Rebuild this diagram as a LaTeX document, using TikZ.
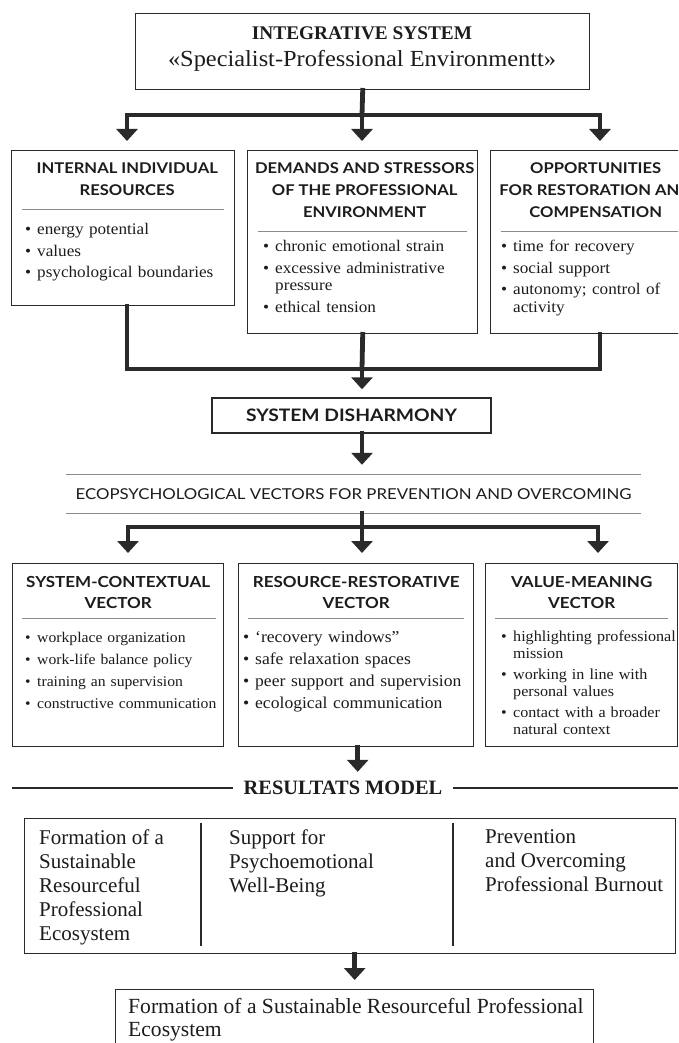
\documentclass[tikz,border=0pt]{standalone}
\usepackage{fontspec}
\setmainfont{Liberation Serif}[FakeStretch=1.06]
\newfontfamily\resfont{Liberation Serif}
\newfontfamily\headfont{Lato}[FakeStretch=1.12]
\usetikzlibrary{positioning,arrows.meta}
\definecolor{ESLine}{HTML}{2A2A2A}
\definecolor{ESRule}{HTML}{8A8A8A}
\definecolor{ESText}{HTML}{1C1C1C}
\newcommand{\bitem}[1]{\par\hangindent=12pt\hangafter=1\noindent\makebox[12pt][l]{\textbullet}#1\par}

\begin{document}
\begin{tikzpicture}[x=1pt,y=-1pt,
  frame/.style={draw=ESLine,line width=1.4pt,fill=white,inner sep=0pt,anchor=north west},
  boxhead/.style={font=\headfont\bfseries\fontsize{14.8}{22}\selectfont,align=center,inner sep=0pt,anchor=north,text=ESText},
  vechead/.style={boxhead,font=\headfont\bfseries\fontsize{15.2}{21}\selectfont},
  boxitems/.style={font=\fontsize{16.2}{17.5}\selectfont\setlength{\parskip}{4pt},text width=250pt,align=left,inner sep=0pt,anchor=north west,text=ESText},
  results/.style={font=\resfont\fontsize{21}{24}\selectfont,align=left,inner sep=0pt,anchor=north west,text=ESText},
  rule/.style={draw=ESRule,line width=0.9pt},
  divider/.style={draw=ESLine,line width=1.2pt},
  flow/.style={draw=ESLine,line width=4.8pt,line cap=rect},
  flowarrow/.style={flow,-{Triangle[width=21pt,length=12pt]},shorten >=9pt}]
\useasboundingbox (0,0) rectangle (678,1043);
\fill[white] (0,0) rectangle (678,1043);
\clip (0,0) rectangle (678,1043);

\node[frame,minimum width=454pt,minimum height=76pt] (intsys) at (135,13) {};
\node[font=\resfont\bfseries\fontsize{19.3}{23}\selectfont,text=ESText,inner sep=0pt] (intsysA) at (362,33) {INTEGRATIVE SYSTEM};
\node[font=\fontsize{23}{27}\selectfont,text=ESText,inner sep=0pt,anchor=base] (intsysB) at (362,67) {«Specialist-Professional Environmentt»};

\node[frame,minimum width=223pt,minimum height=155pt] (indres) at (11,150) {};
\node[frame,minimum width=230pt,minimum height=183pt] (demand) at (247,150) {};
\node[frame,minimum width=210pt,minimum height=183pt] (oppor) at (490,150) {};
\node[boxhead] (indresH) at ([xshift=4pt,yshift=-12.3pt]indres.north) {INTERNAL INDIVIDUAL\\RESOURCES};
\node[boxhead] (demandH) at ([xshift=2pt,yshift=-12.3pt]demand.north) {DEMANDS AND STRESSORS\\OF THE PROFESSIONAL\\ENVIRONMENT};
\node[boxhead] (opporH) at ([yshift=-12.3pt]oppor.north) {OPPORTUNITIES\\FOR RESTORATION AND\\COMPENSATION};
\draw[rule] ([xshift=11pt,yshift=-59pt]indres.north west) -- ([xshift=-11pt,yshift=-59pt]indres.north east);
\draw[rule] ([xshift=11pt,yshift=-81pt]demand.north west) -- ([xshift=-11pt,yshift=-81pt]demand.north east);
\draw[rule] ([xshift=11pt,yshift=-81pt]oppor.north west) -- ([xshift=-11pt,yshift=-81pt]oppor.north east);
\node[boxitems] (indresL) at ([xshift=14pt,yshift=-63pt]indres.north west) {\bitem{energy potential}\bitem{values}\bitem{psychological boundaries}};
\node[boxitems] (demandL) at ([xshift=16pt,yshift=-80pt]demand.north west) {\bitem{chronic emotional strain}\bitem{excessive administrative\newline pressure}\bitem{ethical tension}};
\node[boxitems] (opporL) at ([xshift=11pt,yshift=-80pt]oppor.north west) {\bitem{time for recovery}\bitem{social support}\bitem{autonomy; control of\newline activity}};

\coordinate (barA) at (127,115);
\coordinate (barB) at (362,115);
\coordinate (barC) at (600,115);
\draw[flow] (intsys.south) -- (barB);
\draw[flow] (barA) -- (barC);
\draw[flowarrow] (barA) -- (barA |- indres.north);
\draw[flowarrow] (barB) -- (barB |- demand.north);
\draw[flowarrow] (barC) -- (barC |- oppor.north);

\node[frame,anchor=center,minimum width=279pt,minimum height=35pt,text=ESText,font=\headfont\bfseries\fontsize{17.2}{20}\selectfont] (dishar) at (351.5,415.5) {SYSTEM DISHARMONY};
\coordinate (joinA) at (127,369);
\coordinate (joinB) at (362,369);
\coordinate (joinC) at (600,369);
\draw[flow] (joinA |- indres.south) -- (joinA) -- (joinC) -- (joinC |- oppor.south);
\draw[flow] (demand.south) -- (joinB);
\draw[flowarrow,shorten >=8pt] (joinB) -- (joinB |- dishar.north);

\node[font=\headfont\fontsize{15}{18}\selectfont,text=ESText,minimum width=575pt,minimum height=38pt,inner sep=0pt] (ecovec) at (353.5,494) {ECOPSYCHOLOGICAL VECTORS FOR PREVENTION AND OVERCOMING};
\draw[rule,line width=1.3pt] (ecovec.north west) -- (ecovec.north east);
\draw[rule,line width=1.3pt] (ecovec.south west) -- (ecovec.south east);
\draw[flowarrow,shorten >=10pt] (dishar.south -| joinB) -- (joinB |- ecovec.north);

\node[frame,minimum width=211pt,minimum height=183pt] (syscon) at (12,563) {};
\node[frame,minimum width=235pt,minimum height=183pt] (resrest) at (238,563) {};
\node[frame,minimum width=192pt,minimum height=183pt] (valmean) at (485,563) {};
\node[vechead] (sysconH) at ([yshift=-13.3pt]syscon.north) {SYSTEM-CONTEXTUAL\\VECTOR};
\node[vechead] (resrestH) at ([yshift=-13.3pt]resrest.north) {RESOURCE-RESTORATIVE\\VECTOR};
\node[vechead] (valmeanH) at ([yshift=-13.3pt]valmean.north) {VALUE-MEANING\\VECTOR};
\draw[rule] ([xshift=10pt,yshift=-55pt]syscon.north west) -- ([xshift=-8pt,yshift=-55pt]syscon.north east);
\draw[rule] ([xshift=10pt,yshift=-55pt]resrest.north west) -- ([xshift=-10pt,yshift=-55pt]resrest.north east);
\draw[rule] ([xshift=10pt,yshift=-55pt]valmean.north west) -- ([xshift=-10pt,yshift=-55pt]valmean.north east);
\node[boxitems,font=\fontsize{14.8}{17}\selectfont\setlength{\parskip}{5pt}] (sysconL) at ([xshift=13pt,yshift=-57pt]syscon.north west) {\bitem{workplace organization}\bitem{work-life balance policy}\bitem{training an supervision}\bitem{constructive communication}};
\node[boxitems,font=\fontsize{16.6}{17}\selectfont\setlength{\parskip}{5pt}] (resrestL) at ([xshift=5pt,yshift=-57pt]resrest.north west) {\bitem{‘recovery windows”}\bitem{safe relaxation spaces}\bitem{peer support and supervision}\bitem{ecological communication}};
\node[boxitems,font=\fontsize{15.2}{17}\selectfont\setlength{\parskip}{4pt}] (valmeanL) at ([xshift=16pt,yshift=-57pt]valmean.north west) {\bitem{highlighting professional\newline mission}\bitem{working in line with\newline personal values}\bitem{contact with a broader\newline natural context}};

\coordinate (vecA) at (128,527);
\coordinate (vecB) at (362,527);
\coordinate (vecC) at (598,527);
\draw[flow] (ecovec.south -| vecB) -- (vecB);
\draw[flow] (vecA) -- (vecC);
\draw[flowarrow,shorten >=10pt] (vecA) -- (vecA |- syscon.north);
\draw[flowarrow,shorten >=10pt] (vecB) -- (vecB |- resrest.north);
\draw[flowarrow,shorten >=10pt] (vecC) -- (vecC |- valmean.north);

\node[font=\resfont\bfseries\fontsize{20.4}{24}\selectfont,text=ESText,inner xsep=11pt,inner ysep=0pt,minimum height=20pt] (resmodel) at (343,788) {RESULTATS MODEL};
\coordinate (ruleL) at (12,788);
\coordinate (ruleR) at (678,788);
\draw[draw=ESLine,line width=2pt] (ruleL) -- (resmodel.west);
\draw[draw=ESLine,line width=2pt] (resmodel.east) -- (ruleR);
\draw[flowarrow,shorten >=6pt] ([xshift=1.5pt]resrest.south) -- ([xshift=1.5pt]resrest.south |- resmodel.north);

\node[frame,minimum width=651pt,minimum height=135pt] (resbox) at (24,818) {};
\draw[divider] ([xshift=177pt,yshift=-5pt]resbox.north west) -- ([xshift=177pt,yshift=8pt]resbox.south west);
\draw[divider] ([xshift=429pt,yshift=-5pt]resbox.north west) -- ([xshift=429pt,yshift=8pt]resbox.south west);
\node[results] (resA) at ([xshift=15pt,yshift=-11.5pt]resbox.north west) {Formation of a\\Sustainable\\Resourceful\\Professional\\Ecosystem};
\node[results] (resB) at ([xshift=205pt,yshift=-11.5pt]resbox.north west) {Support for\\Psychoemotional\\Well-Being};
\node[results] (resC) at ([xshift=461pt,yshift=-11.5pt]resbox.north west) {Prevention\\and Overcoming\\Professional Burnout};

\node[frame,minimum width=478pt,minimum height=75pt] (ecosys) at (115,989) {};
\node[results,font=\resfont\fontsize{21.6}{22.5}\selectfont] (ecosysT) at ([xshift=13pt,yshift=-9.5pt]ecosys.north west) {Formation of a Sustainable Resourceful Professional\\Ecosystem};
\draw[flowarrow] ([xshift=4.5pt]resbox.south) -- ([xshift=4.5pt]resbox.south |- ecosys.north);
\end{tikzpicture}
\end{document}
